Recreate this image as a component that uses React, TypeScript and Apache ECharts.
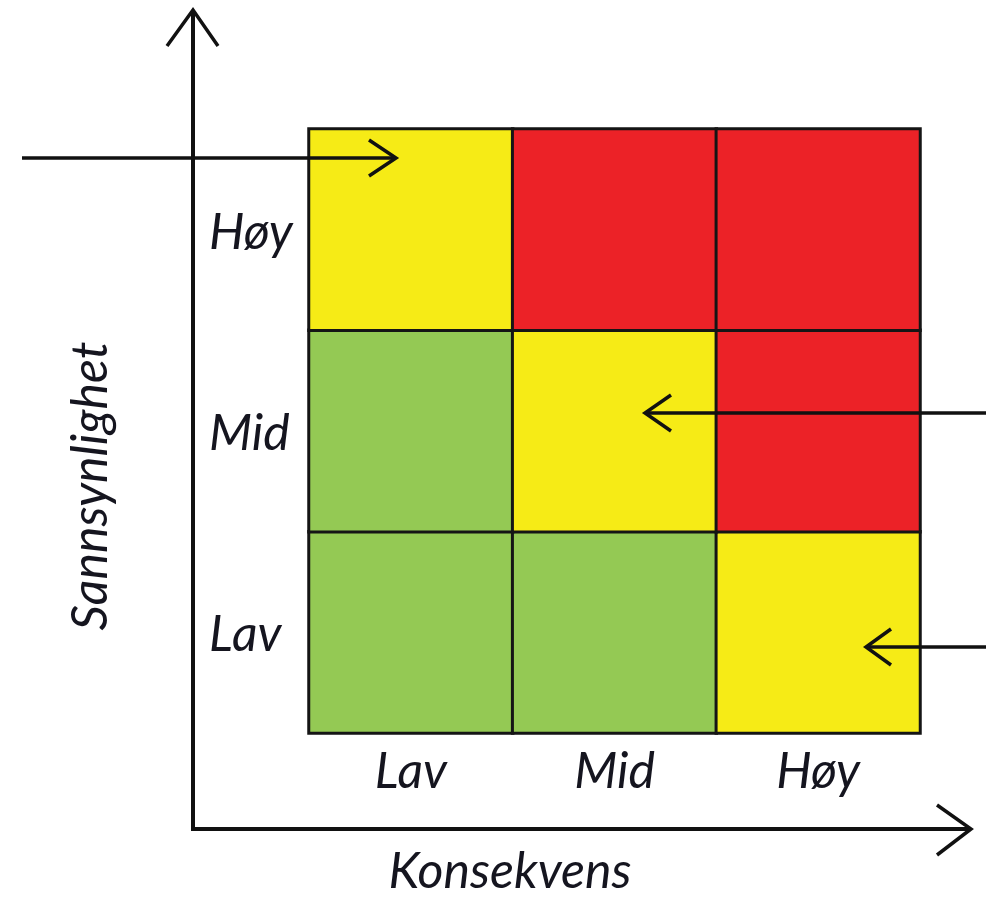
import React, { useEffect, useRef } from "react";
import * as echarts from "echarts";

const xCategories = ["Lav", "Mid", "Høy"];
const yCategories = ["Lav", "Mid", "Høy"];
// risk level per cell (0 = low/green, 1 = medium/yellow, 2 = high/red), columns Lav → Høy
const riskRowLav = [0, 0, 1];
const riskRowMid = [0, 1, 2];
const riskRowHoy = [1, 2, 2];
const riskLevels = [0, 1, 2];
const riskColors = ["#94C954", "#F6EB16", "#EC2227"];
const xTitle = "Konsekvens";
const yTitle = "Sannsynlighet";

const FONT = "Lato, 'Open Sans', sans-serif";
const TEXT_COLOR = "#15151f";
const FS = 50;

export default function App() {
  const ref = useRef<HTMLDivElement>(null);

  useEffect(() => {
    document.body.style.margin = "0";
    if (!ref.current) return;
    const chart = echarts.init(ref.current, undefined, { renderer: "svg" });

    const rows = [riskRowLav, riskRowMid, riskRowHoy];
    const data: number[][] = [];
    rows.forEach((row, yi) => row.forEach((lvl, xi) => data.push([xi, yi, lvl])));

    const lineStyle = { stroke: "#111", lineWidth: 3.5, fill: "none", lineCap: "butt", lineJoin: "miter" };

    chart.setOption({
      animation: false,
      backgroundColor: "#ffffff",
      grid: { left: 309, top: 129, width: 611, height: 604 },
      xAxis: {
        type: "category",
        data: xCategories,
        axisLine: { show: false },
        axisTick: { show: false },
        splitLine: { show: false },
        axisLabel: {
          fontSize: FS,
          fontStyle: "italic",
          fontFamily: FONT,
          color: TEXT_COLOR,
          margin: 36,
          verticalAlign: "middle",
          lineHeight: 50,
        },
      },
      yAxis: {
        type: "category",
        data: yCategories,
        axisLine: { show: false },
        axisTick: { show: false },
        splitLine: { show: false },
        axisLabel: {
          fontSize: FS,
          fontStyle: "italic",
          fontFamily: FONT,
          color: TEXT_COLOR,
          margin: 100,
          align: "left",
          verticalAlign: "middle",
          lineHeight: 50,
          padding: [20, 0, 0, 0],
        },
      },
      visualMap: {
        show: false,
        type: "piecewise",
        dimension: 2,
        pieces: riskLevels.map((v) => ({ value: v, color: riskColors[v] })),
      },
      series: [
        {
          type: "heatmap",
          data,
          itemStyle: { borderColor: "#151515", borderWidth: 3 },
          emphasis: { disabled: true },
        },
      ],
      graphic: [
        // y axis with open arrow head
        { type: "line", z: 100, shape: { x1: 193, y1: 10, x2: 193, y2: 831 }, style: { stroke: "#111", lineWidth: 4 } },
        { type: "polyline", z: 100, shape: { points: [[167, 46], [193, 10], [218, 46]] }, style: lineStyle },
        // x axis with open arrow head
        { type: "line", z: 100, shape: { x1: 191, y1: 829, x2: 970, y2: 829 }, style: { stroke: "#111", lineWidth: 4 } },
        { type: "polyline", z: 100, shape: { points: [[937, 805], [971, 829], [937, 855]] }, style: lineStyle },
        // pointer arrows
        { type: "line", z: 100, shape: { x1: 22, y1: 158, x2: 396, y2: 158 }, style: { stroke: "#111", lineWidth: 3.5 } },
        { type: "polyline", z: 100, shape: { points: [[369, 140], [396, 158], [369, 176]] }, style: lineStyle },
        { type: "line", z: 100, shape: { x1: 645, y1: 413, x2: 986, y2: 413 }, style: { stroke: "#111", lineWidth: 3.5 } },
        { type: "polyline", z: 100, shape: { points: [[671, 395], [645, 413], [671, 431]] }, style: lineStyle },
        { type: "line", z: 100, shape: { x1: 866, y1: 647, x2: 986, y2: 647 }, style: { stroke: "#111", lineWidth: 3.5 } },
        { type: "polyline", z: 100, shape: { points: [[891, 629], [866, 647], [891, 665]] }, style: lineStyle },
        // axis titles
        {
          type: "text",
          z: 100,
          x: 510,
          y: 869,
          style: {
            text: xTitle,
            fontSize: FS,
            fontStyle: "italic",
            fontFamily: FONT,
            fill: TEXT_COLOR,
            align: "center",
            verticalAlign: "middle",
            lineHeight: 44,
          },
        },
        {
          type: "text",
          z: 100,
          x: 88,
          y: 486,
          rotation: Math.PI / 2,
          style: {
            text: yTitle,
            fontSize: FS,
            fontStyle: "italic",
            fontFamily: FONT,
            fill: TEXT_COLOR,
            align: "center",
            verticalAlign: "middle",
            lineHeight: 50,
          },
        },
      ],
    });

    return () => chart.dispose();
  }, []);

  return <div ref={ref} style={{ width: 989, height: 902 }} />;
}
